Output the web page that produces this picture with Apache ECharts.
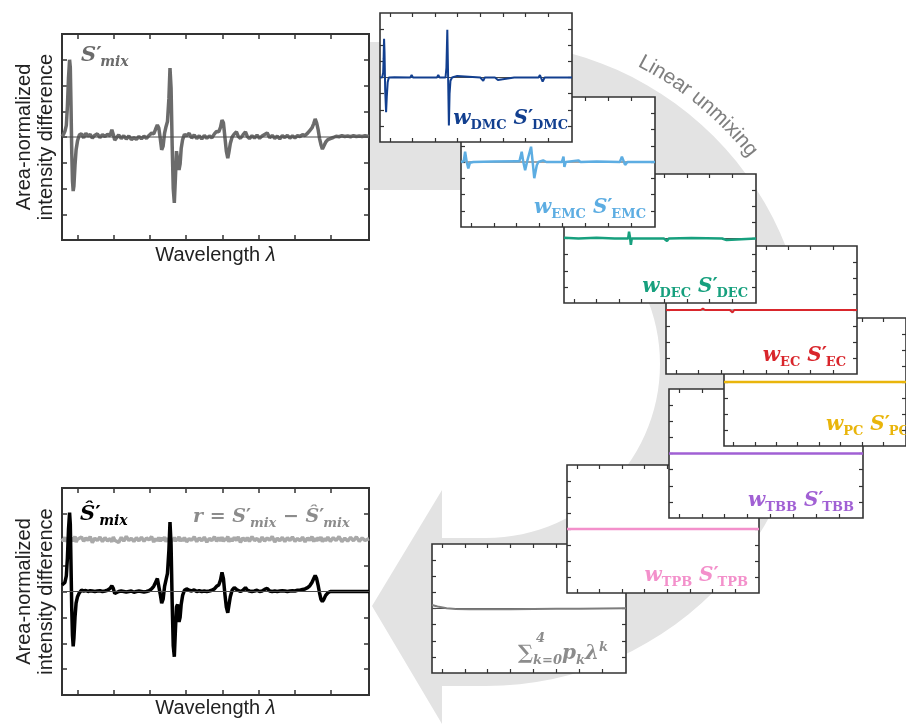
<!DOCTYPE html>
<html><head><meta charset="utf-8">
<script src="https://cdn.jsdelivr.net/npm/echarts@6/dist/echarts.min.js"></script>
<style>html,body{margin:0;padding:0;background:#fff}#c{width:906px;height:724px}</style>
</head><body><div id="c"></div>
<script>
// ---------- axis ranges / ticks ----------
const xMin = 0.56, xMax = 9.06;
const yMin = -4, yMax = 4;
const xTicks = [1, 2, 3, 4, 5, 6, 7, 8];
const yTicks = [-3, -2, -1, 0, 1, 2, 3];

// ---------- mixture spectrum (main panels) ----------
const xMix = [0.56,0.60,0.64,0.68,0.71,0.74,0.77,0.79,0.81,0.83,0.85,0.87,0.89,0.92,0.95,0.99,1.04,1.10,1.16,1.22,
1.28,1.34,1.40,1.47,1.54,1.61,1.68,1.75,1.82,1.89,1.94,1.98,2.02,2.07,2.13,2.20,2.27,2.34,2.41,2.48,
2.55,2.62,2.69,2.76,2.83,2.90,2.97,3.04,3.10,3.15,3.20,3.24,3.28,3.32,3.36,3.40,3.44,3.48,3.52,3.55,
3.58,3.61,3.64,3.67,3.70,3.73,3.76,3.80,3.83,3.86,3.90,3.95,4.01,4.08,4.15,4.22,4.29,4.36,4.43,4.50,
4.57,4.64,4.71,4.78,4.84,4.90,4.95,4.99,5.03,5.07,5.11,5.15,5.18,5.22,5.27,5.33,5.39,5.44,5.50,5.57,
5.64,5.69,5.75,5.82,5.89,5.96,6.03,6.10,6.17,6.24,6.31,6.38,6.45,6.52,6.59,6.66,6.73,6.80,6.87,6.94,
7.01,7.08,7.15,7.22,7.29,7.36,7.42,7.48,7.53,7.57,7.61,7.65,7.69,7.73,7.77,7.81,7.86,7.92,7.99,8.07,
8.15,8.23,8.31,8.39,8.47,8.55,8.63,8.71,8.79,8.87,8.95,9.06];
const sMix = [0.02,0.10,0.22,0.45,1.20,2.30,3.00,2.70,1.20,-0.60,-1.70,-2.10,-1.90,-1.10,-0.50,-0.15,0.08,0.12,-0.03,0.15,
0.03,0.10,-0.04,0.07,0.12,-0.02,0.09,0.02,0.11,0.05,0.28,0.10,-0.12,-0.05,0.08,-0.06,0.05,-0.08,0.04,-0.10,
-0.03,-0.09,0.02,-0.07,0.03,-0.05,0.06,0.15,0.12,0.30,0.47,0.35,-0.05,-0.50,-0.35,0.15,0.40,0.60,1.50,2.68,
1.90,-0.30,-2.00,-2.56,-1.60,-0.55,-0.60,-1.28,-1.05,-0.45,-0.10,0.10,0.05,0.14,-0.04,0.08,-0.06,0.05,-0.08,0.06,
-0.05,0.04,-0.03,0.12,0.22,0.20,0.38,0.66,0.55,0.00,-0.55,-0.82,-0.60,-0.25,0.00,0.12,0.20,0.02,-0.05,0.08,
0.20,0.02,-0.06,0.05,-0.04,0.07,-0.05,0.04,0.10,0.16,-0.03,0.06,-0.05,0.03,-0.07,0.05,-0.02,0.06,-0.04,0.04,
-0.03,0.05,0.02,0.09,0.06,0.15,0.25,0.35,0.52,0.70,0.55,0.30,-0.05,-0.30,-0.47,-0.35,-0.20,-0.10,-0.06,-0.02,
0.03,0.01,0.05,0.02,0.04,0.01,0.05,0.02,0.04,0.02,0.05,0.02];
const sMixFit = [0.25,0.28,0.35,0.60,1.30,2.40,3.05,2.60,1.00,-0.70,-1.70,-2.12,-1.80,-1.00,-0.45,-0.20,-0.05,0.05,0.02,0.04,
0.00,0.03,0.02,0.00,0.02,0.03,0.00,0.02,0.05,0.12,0.22,0.12,-0.08,-0.10,0.00,0.02,0.00,-0.02,0.00,0.02,
-0.03,0.00,0.02,0.00,-0.02,0.00,0.03,0.10,0.20,0.35,0.50,0.45,-0.10,-0.45,-0.30,0.20,0.45,0.70,1.60,2.68,
1.80,-0.40,-2.10,-2.52,-1.50,-0.60,-0.50,-1.17,-1.00,-0.50,-0.15,0.05,0.10,0.05,0.02,0.06,0.00,0.03,0.00,0.02,
0.00,0.02,0.05,0.10,0.20,0.25,0.45,0.74,0.50,-0.10,-0.60,-0.82,-0.55,-0.20,0.05,0.15,0.08,0.12,0.00,0.05,
0.15,0.05,0.02,0.00,0.02,0.05,0.00,0.02,0.08,0.12,0.02,0.00,0.02,0.00,0.02,0.03,0.02,0.00,0.02,0.03,
0.02,0.05,0.05,0.08,0.10,0.15,0.22,0.35,0.50,0.62,0.50,0.25,-0.05,-0.30,-0.39,-0.30,-0.15,-0.05,0.00,0.00,
0.00,0.00,0.00,0.00,0.00,0.00,0.00,0.00,0.00,0.00,0.00,0.00];
const residual = [2.05,1.95,2.10,1.92,2.08,1.97,2.12,1.90,2.06,1.95,2.09,1.93,2.04,2.13,1.91,2.02,1.96,2.11,1.94,2.07,
1.98,2.12,1.89,2.06,1.97,2.10,1.93,2.08,1.96,2.04,1.92,2.11,1.98,2.05,1.90,2.09,1.95,2.13,1.97,2.06,
1.93,2.08,1.96,2.10,1.94,2.07,1.99,2.12,1.91,2.05,1.96,2.09,1.94,2.08,1.97,2.11,1.92,2.06,1.98,2.13,
1.90,2.05,1.96,2.10,1.93,2.07,1.97,2.12,1.94,2.06,1.95,2.09,1.92,2.04,1.98,2.11,1.93,2.07,1.96,2.10,
1.91,2.05,1.97,2.12,1.94,2.08,1.96,2.10,1.93,2.06,1.98,2.13,1.92,2.05,1.95,2.09,1.97,2.11,1.90,2.07,
1.96,2.08,1.94,2.12,1.97,2.05,1.92,2.10,1.95,2.07,1.98,2.13,1.91,2.06,1.96,2.09,1.93,2.08,1.97,2.11,
1.94,2.05,1.96,2.10,1.92,2.07,1.98,2.12,1.93,2.06,1.95,2.09,1.97,2.11,1.92,2.05,1.96,2.10,1.94,2.08,
1.97,2.12,1.93,2.06,1.95,2.09,1.96,2.11,1.94,2.07,1.97,2.04];

// ---------- component spectra (small panels) ----------
const xDMC = [0.56,0.66,0.70,0.72,0.74,0.76,0.79,0.83,0.86,0.90,0.95,1.2,1.9,1.96,2.02,2.6,3.08,3.14,3.20,3.46,
3.50,3.54,3.57,3.61,3.64,3.68,3.75,3.98,4.05,5.0,5.06,5.13,5.2,5.65,5.72,5.78,6.5,7.58,7.64,7.76,7.85,9.06];
const yDMC = [0,0.02,0.3,1.2,2.4,1.6,-0.8,-2.15,-1.2,-0.3,0,0.02,0,0.15,0,0,0,0.15,0,0,
0.6,2.96,0.5,-2.98,-1.0,-0.2,0,0.1,0,0,0.12,-0.2,0,0,0.12,-0.15,0,0,0.15,-0.25,0,0];
const xEMC = [0.56,0.68,0.74,0.81,0.88,0.95,1.1,2.0,3.0,3.12,3.22,3.29,3.37,3.47,3.63,3.70,3.77,3.88,3.95,4.16,
4.3,4.98,5.05,5.09,5.15,5.7,5.8,6.5,7.52,7.61,7.75,7.85,9.06];
const yEMC = [0,0.05,0.63,0,-0.39,-0.05,0,0.03,0.05,0.05,0.63,0,-0.5,0.1,0.94,0,-1.0,-0.2,0,0.1,
0,0,0.33,-0.3,0,0.1,0,0.03,0,0.33,-0.18,0,0];
const xDEC = [0.56,1.2,2.0,2.8,3.40,3.44,3.49,3.52,3.56,3.62,4.3,4.98,5.03,5.12,5.2,6.2,7.56,7.61,7.76,7.84,9.06];
const yDEC = [0.05,0,0.04,0,0,0.42,0,-0.4,0,0.03,0,0,0.1,-0.15,0,0.03,0,0.1,-0.1,0,0];
const xEC = [0.56,2.1,2.2,2.3,3.40,3.47,3.52,3.6,9.06];
const yEC = [0,0,0.08,0,0,0.1,-0.15,0,0];
const xPC = [0.56,2.15,2.23,2.3,3.1,3.17,3.25,9.06];
const yPC = [0,0,0.05,0,0,0.05,0,0];
const xTBB = [0.56,9.06];
const yTBB = [0,0];
const xTPB = [0.56,9.06];
const yTPB = [0,0];
const xPoly = [0.56,0.8,1.2,1.6,2.2,3.0,4.0,5.0,6.0,7.0,8.0,9.06];
const yPoly = [0.22,0.12,0.02,-0.03,-0.05,-0.05,-0.04,-0.03,-0.02,-0.01,0,0.01];

// ---------- text ----------
const yName = 'Area-normalized\nintensity difference';
const xName = 'Wavelength {l|λ}';
const arcText = 'Linear unmixing';

// ---------- layout & styles ----------
const SERIF = '"DejaVu Serif", serif';
const SANS = '"Liberation Sans", Arial, sans-serif';
const zip = (xs, ys) => xs.map((x, k) => [x, ys[k]]);

const panels = [
  {rect:[62,34,307,206], z:200, main:true, names:true, zeroTop:true,
   lines:[{d:zip(xMix,sMix), c:'#6b6b6b', w:3.5}]},
  {rect:[62,488,307,207], z:200, main:true, names:true, zeroTop:true, nameGapX:3,
   lines:[{d:zip(xMix,residual), c:'#a9a9a9', w:3.5},{d:zip(xMix,sMixFit), c:'#000000', w:3.5}]},
  {rect:[380,13,192,129], z:180, lines:[{d:zip(xDMC,yDMC), c:'#123f8f', w:2}]},
  {rect:[461,97,194,130], z:170, lines:[{d:zip(xEMC,yEMC), c:'#5dade2', w:2.5}]},
  {rect:[564,174,192,129], z:160, lines:[{d:zip(xDEC,yDEC), c:'#17a07e', w:2.5}]},
  {rect:[666,246,191,128], z:150, lines:[{d:zip(xEC,yEC), c:'#d9262c', w:2}]},
  {rect:[724,318,192,128], z:140, lines:[{d:zip(xPC,yPC), c:'#e9b50b', w:2.5}]},
  {rect:[669,389,194,129], z:130, lines:[{d:zip(xTBB,yTBB), c:'#a160d4', w:2.5}]},
  {rect:[567,465,192,128], z:120, lines:[{d:zip(xTPB,yTPB), c:'#f390cb', w:2.5}]},
  {rect:[432,544,194,129], z:110, lines:[{d:zip(xPoly,yPoly), c:'#7d7d7d', w:2}]}
];

const option = {animation:false, grid:[], xAxis:[], yAxis:[], series:[], title:[], graphic:[]};

panels.forEach((p, i) => {
  const [l, t, w, h] = p.rect;
  const tl = p.main ? 5 : 4;
  const tickStyle = {color:'#333', width: p.main ? 1.5 : 1.2};
  option.grid.push({left:l, top:t, width:w, height:h, show:true, backgroundColor:'#fff',
    borderColor:'#333', borderWidth: p.main ? 2 : 1.6, z:p.z});
  ['bottom','top'].forEach((pos, k) => {
    const ax = {type:'value', gridIndex:i, position:pos, min:xMin, max:xMax, z:p.z+1,
      axisLine:{show:false, onZero:false}, axisLabel:{show:false}, splitLine:{show:false},
      axisTick:{show:true, inside:true, length:tl, customValues:xTicks, lineStyle:tickStyle}};
    if (k === 0 && p.names) {
      Object.assign(ax, {name:xName, nameLocation:'middle', nameGap: p.nameGapX != null ? p.nameGapX : 5,
        nameTextStyle:{fontFamily:SANS, fontSize:20, color:'#222',
          rich:{l:{fontFamily:SANS, fontStyle:'italic', fontSize:20, color:'#222'}}}});
    }
    option.xAxis.push(ax);
  });
  ['left','right'].forEach((pos, k) => {
    const ax = {type:'value', gridIndex:i, position:pos, min:yMin, max:yMax, z:p.z+1,
      axisLine:{show:false, onZero:false}, axisLabel:{show:false}, splitLine:{show:false},
      axisTick:{show:true, inside:true, length:tl, customValues:yTicks, lineStyle:tickStyle}};
    if (k === 0 && p.names) {
      Object.assign(ax, {name:yName, nameLocation:'middle', nameRotate:90, nameGap:5,
        nameTextStyle:{fontFamily:SANS, fontSize:20, lineHeight:22, color:'#222'}});
    }
    option.yAxis.push(ax);
  });
  const zero = {type:'line', xAxisIndex:2*i, yAxisIndex:2*i, data:[[xMin,0],[xMax,0]],
    symbol:'none', silent:true, lineStyle:{color:'#4a4a4a', width:1}, z: p.zeroTop ? p.z+5 : p.z+2};
  option.series.push(zero);
  p.lines.forEach((ln, k) => {
    option.series.push({type:'line', xAxisIndex:2*i, yAxisIndex:2*i, data:ln.d, symbol:'none',
      showSymbol:false, silent:true, lineStyle:{color:ln.c, width:ln.w}, z:p.z+3+k*0.1});
  });
});

// ---------- math-like labels ----------
function rich(color, big, sub) {
  const b = {fontFamily:SERIF, fontWeight:'bold', color:color};
  return {
    i: Object.assign({}, b, {fontStyle:'italic', fontSize:big, lineHeight:big+6}),
    n: Object.assign({}, b, {fontSize:big, lineHeight:big+6}),
    pr: Object.assign({}, b, {fontSize:big, lineHeight:big+6, width:Math.round(big*0.2)}),
    sb: Object.assign({}, b, {fontSize:sub, lineHeight:sub, verticalAlign:'bottom'}),
    si: Object.assign({}, b, {fontStyle:'italic', fontSize:sub, lineHeight:sub, verticalAlign:'bottom'}),
    su: Object.assign({}, b, {fontStyle:'italic', fontSize:sub, lineHeight:sub, verticalAlign:'top'})
  };
}
const comp = s => '{i|w}{sb|' + s + '}{n| }{i|S}{pr|′}{sb|' + s + '}';
const labels = [
  {text:'{i|S}{pr|′}{si|mix}', c:'#6b6b6b', left:81, top:42, big:21, sub:14},
  {text:'{i|Ŝ}{pr|′}{si|mix}', c:'#000000', left:80, top:501, big:21, sub:14},
  {text:'{i|r}{n| = }{i|S}{pr|′}{si|mix}{n| − }{i|Ŝ}{pr|′}{si|mix}', c:'#8c8c8c', left:193, top:505, big:19, sub:13},
  {text:comp('DMC'), c:'#123f8f', right:338, top:106, big:20, sub:13},
  {text:comp('EMC'), c:'#5dade2', right:260, top:195, big:20, sub:13},
  {text:comp('DEC'), c:'#17a07e', right:158, top:274, big:20, sub:13},
  {text:comp('EC'), c:'#d9262c', right:60, top:343, big:20, sub:13},
  {text:comp('PC'), c:'#e9b50b', left:826, top:412, big:20, sub:13},
  {text:comp('TBB'), c:'#a160d4', right:52, top:488, big:20, sub:13},
  {text:comp('TPB'), c:'#f390cb', right:158, top:563, big:20, sub:13},
  {text:'{i|∑}{si|k=0}{i|p}{si|k}{i|λ}{su|k}', c:'#8c8c8c', left:518, top:641, big:20, sub:13},
  {text:'{su|4}', c:'#8c8c8c', left:536, top:632, big:20, sub:13}
];
labels.forEach(L => {
  const t = {text:L.text, top:L.top, padding:0, z:400, textStyle:{rich:rich(L.c, L.big, L.sub), color:L.c}};
  if (L.right != null) t.right = L.right; else t.left = L.left;
  option.title.push(t);
});

// ---------- decorative circular arrow ----------
const cx = 486, cy = 364, R = 322, r = 174;
const pts = [[369, cy - R]];
for (let a = -90; a <= 90; a += 3) { const t = a*Math.PI/180; pts.push([cx + R*Math.cos(t), cy + R*Math.sin(t)]); }
pts.push([442, cy + R], [442, 724], [372, 606], [442, 490], [442, cy + r]);
for (let a = 90; a >= -90; a -= 3) { const t = a*Math.PI/180; pts.push([cx + r*Math.cos(t), cy + r*Math.sin(t)]); }
pts.push([369, cy - r]);
option.graphic.push({type:'polygon', shape:{points:pts}, style:{fill:'#e3e3e3'}, z:1, silent:true});

// text along arc
const font = '21px "Liberation Sans"';
const ctx = document.createElement('canvas').getContext('2d');
ctx.font = font;
const rho = 340, midA = -50.6*Math.PI/180;
const widths = [...arcText].map(ch => ctx.measureText(ch).width);
const total = widths.reduce((s, v) => s + v, 0);
let cum = 0;
[...arcText].forEach((ch, k) => {
  const a = midA + (cum + widths[k]/2 - total/2)/rho;
  cum += widths[k];
  if (ch === ' ') return;
  option.graphic.push({type:'text', x:cx + rho*Math.cos(a), y:cy + rho*Math.sin(a), rotation:-(a + Math.PI/2),
    z:400, silent:true,
    style:{text:ch, font:font, fill:'#7f7f7f', align:'center', verticalAlign:'middle',
      textAlign:'center', textVerticalAlign:'middle'}});
});

const chart = echarts.init(document.getElementById('c'), null, {renderer:'canvas'});
chart.setOption(option);
</script>
</body></html>
